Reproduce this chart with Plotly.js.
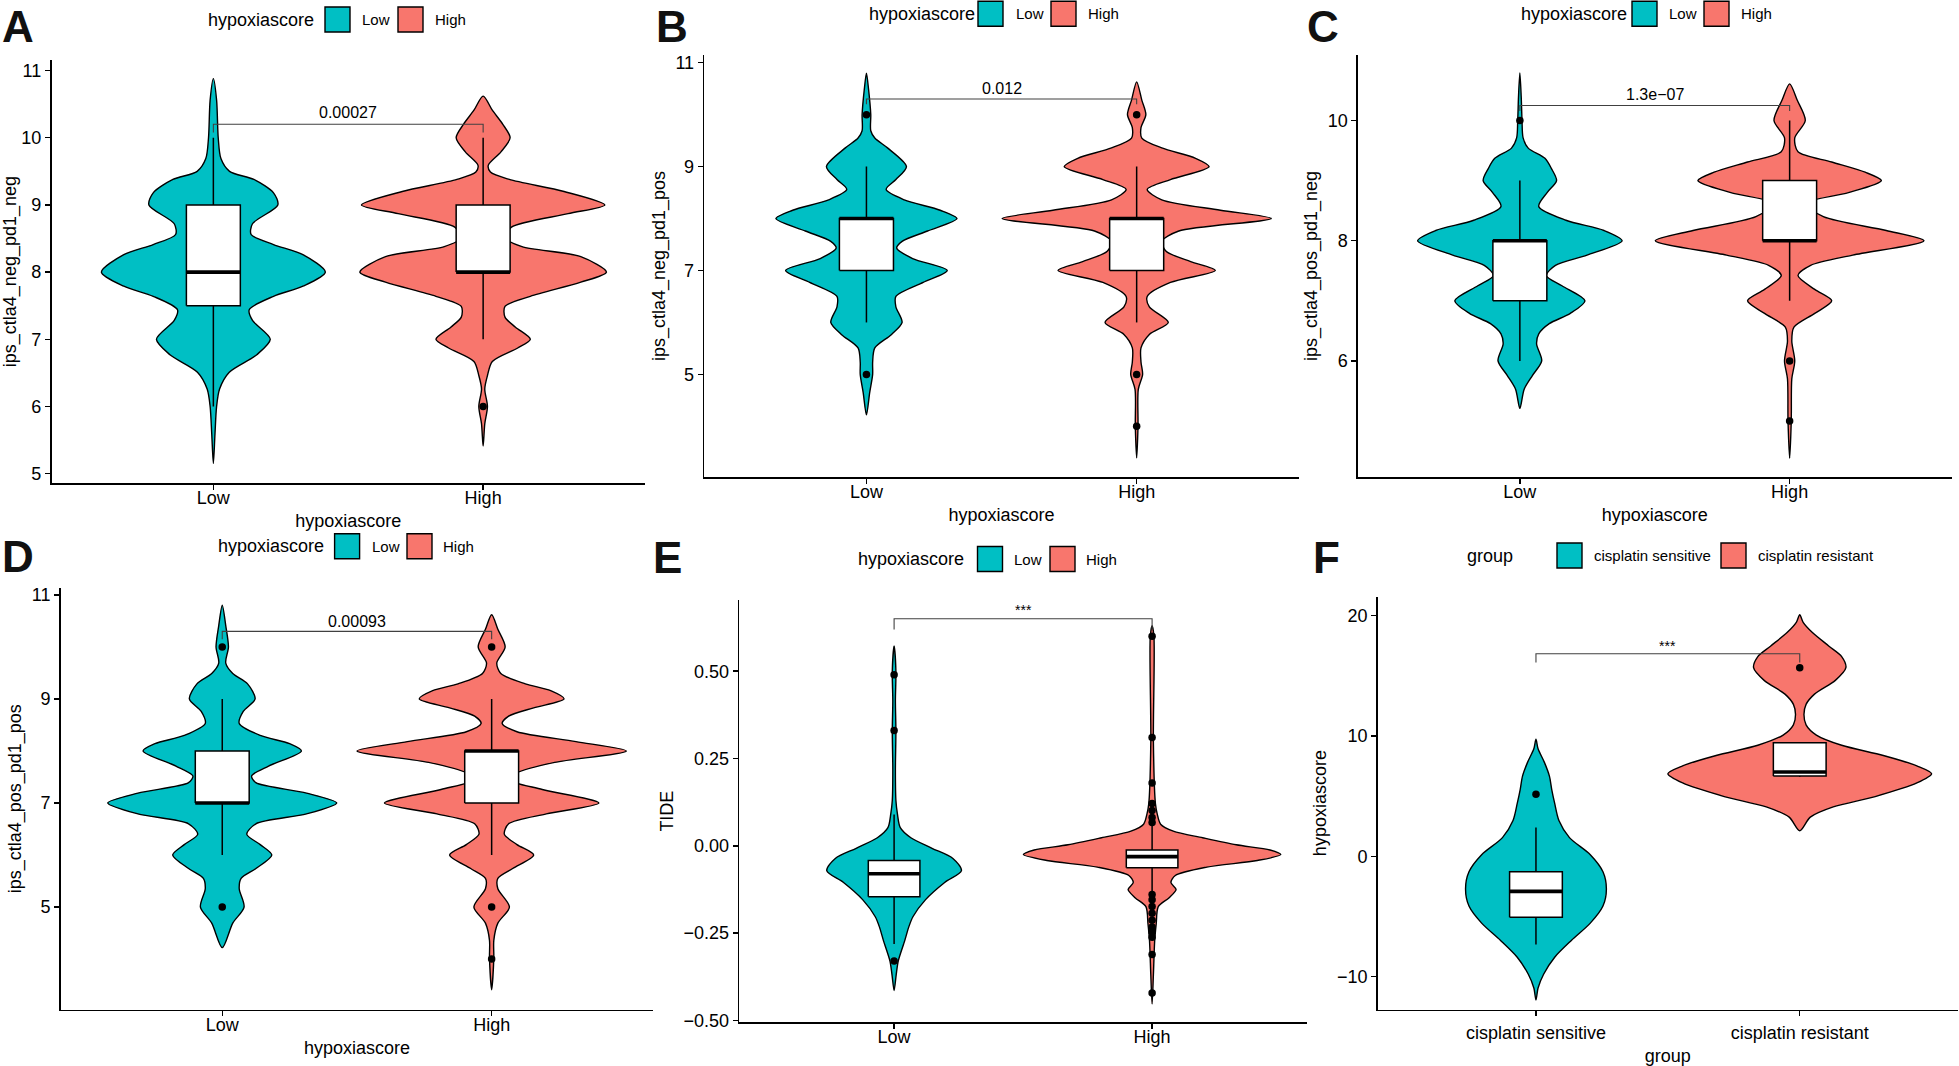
<!DOCTYPE html>
<html><head><meta charset="utf-8">
<script src="https://cdn.plot.ly/plotly-3.0.1.min.js"></script>
<style>html,body{margin:0;padding:0;background:#fff}#chart{width:1959px;height:1066px}</style>
</head><body><div id="chart"></div>
<script>
// ---------------- DATA ----------------
const hypoxiaGroups = ['Low', 'High'];
const cisplatinGroups = ['cisplatin sensitive', 'cisplatin resistant'];
const legendTitles = ['hypoxiascore', 'hypoxiascore', 'hypoxiascore', 'hypoxiascore', 'hypoxiascore', 'group'];
const yTitles = ['ips_ctla4_neg_pd1_neg', 'ips_ctla4_neg_pd1_pos', 'ips_ctla4_pos_pd1_neg', 'ips_ctla4_pos_pd1_pos', 'TIDE', 'hypoxiascore'];
const xTitles = ['hypoxiascore', 'hypoxiascore', 'hypoxiascore', 'hypoxiascore', '', 'group'];
const panelLetters = ['A', 'B', 'C', 'D', 'E', 'F'];
const pLabels = ['0.00027', '0.012', '1.3e\u221207', '0.00093', '***', '***'];

const yTicksA = [5, 6, 7, 8, 9, 10, 11];
const yTicksB = [5, 7, 9, 11];
const yTicksC = [6, 8, 10];
const yTicksD = [5, 7, 9, 11];
const yTicksE = [-0.5, -0.25, 0, 0.25, 0.5];
const yTicksF = [-10, 0, 10, 20];

// violin density profiles: y levels (ascending) and half-widths (category units)
const A_low_y  = [5.15, 5.59, 6.0, 6.26, 6.51, 6.77, 7.0, 7.28, 7.44, 7.64, 7.79, 8.0, 8.26, 8.41, 8.56, 8.72, 9.0, 9.18, 9.38, 9.5, 9.69, 10.0, 10.56, 10.88];
const A_low_w  = [0, 0.006, 0.012, 0.023, 0.059, 0.161, 0.211, 0.145, 0.133, 0.223, 0.332, 0.415, 0.332, 0.223, 0.14, 0.145, 0.239, 0.223, 0.15, 0.06, 0.028, 0.018, 0.012, 0];
const A_high_y = [5.41, 5.74, 6.0, 6.26, 6.46, 6.67, 6.87, 7.0, 7.18, 7.33, 7.49, 7.64, 7.85, 8.0, 8.23, 8.38, 8.51, 8.67, 8.87, 9.0, 9.2, 9.38, 9.49, 9.59, 9.79, 10.0, 10.2, 10.41, 10.62];
const A_high_w = [0, 0.006, 0.016, 0.006, 0.016, 0.034, 0.128, 0.175, 0.12, 0.081, 0.081, 0.175, 0.362, 0.457, 0.362, 0.144, 0.081, 0.105, 0.315, 0.451, 0.3, 0.097, 0.027, 0.019, 0.066, 0.1, 0.073, 0.034, 0];

const B_low_y  = [4.22, 4.65, 5.0, 5.24, 5.51, 5.77, 6.0, 6.3, 6.5, 6.77, 7.0, 7.23, 7.43, 7.56, 7.76, 8.0, 8.16, 8.36, 8.56, 8.75, 9.0, 9.36, 9.55, 9.69, 10.0, 10.48, 10.8];
const B_low_w  = [0, 0.012, 0.023, 0.023, 0.031, 0.093, 0.132, 0.109, 0.109, 0.21, 0.299, 0.171, 0.112, 0.132, 0.226, 0.335, 0.273, 0.14, 0.073, 0.109, 0.148, 0.078, 0.031, 0.016, 0.016, 0.008, 0];
const B_high_y = [3.39, 4.0, 4.71, 5.0, 5.24, 5.51, 5.77, 6.0, 6.3, 6.5, 6.77, 7.0, 7.17, 7.37, 7.56, 7.76, 8.0, 8.16, 8.36, 8.56, 8.75, 9.0, 9.16, 9.36, 9.55, 9.75, 10.0, 10.28, 10.63];
const B_high_w = [0, 0.005, 0.006, 0.022, 0.016, 0.016, 0.047, 0.117, 0.047, 0.039, 0.125, 0.291, 0.2, 0.109, 0.093, 0.156, 0.498, 0.31, 0.093, 0.039, 0.125, 0.268, 0.218, 0.093, 0.019, 0.016, 0.034, 0.019, 0];

const C_low_y  = [5.21, 5.53, 5.76, 6.0, 6.28, 6.45, 6.62, 6.79, 7.0, 7.25, 7.42, 7.59, 7.76, 8.0, 8.17, 8.34, 8.57, 8.8, 9.0, 9.2, 9.37, 9.54, 9.71, 10.0, 10.4, 10.79];
const C_low_w  = [0, 0.016, 0.047, 0.081, 0.062, 0.07, 0.109, 0.187, 0.241, 0.156, 0.098, 0.132, 0.249, 0.379, 0.312, 0.171, 0.07, 0.101, 0.136, 0.117, 0.093, 0.031, 0.012, 0.008, 0.005, 0];
const C_high_y = [4.38, 5.0, 5.7, 6.0, 6.33, 6.56, 6.79, 7.0, 7.19, 7.42, 7.59, 7.76, 8.0, 8.17, 8.4, 8.62, 8.8, 9.0, 9.14, 9.31, 9.48, 9.71, 10.0, 10.34, 10.61];
const C_high_w = [0, 0.006, 0.008, 0.019, 0.008, 0.016, 0.093, 0.156, 0.093, 0.031, 0.078, 0.234, 0.498, 0.358, 0.125, 0.058, 0.218, 0.34, 0.28, 0.156, 0.031, 0.019, 0.058, 0.028, 0];

const D_low_y  = [4.22, 4.69, 5.0, 5.35, 5.55, 5.74, 6.0, 6.2, 6.4, 6.6, 6.79, 7.0, 7.19, 7.39, 7.52, 7.71, 8.0, 8.14, 8.3, 8.53, 8.76, 9.0, 9.29, 9.49, 9.69, 10.0, 10.41, 10.8];
const D_low_w  = [0, 0.039, 0.081, 0.063, 0.07, 0.125, 0.184, 0.141, 0.091, 0.125, 0.313, 0.425, 0.313, 0.125, 0.109, 0.172, 0.294, 0.25, 0.141, 0.063, 0.078, 0.122, 0.094, 0.039, 0.013, 0.023, 0.013, 0];
const D_high_y = [3.41, 4.02, 4.36, 4.69, 5.0, 5.35, 5.55, 5.74, 6.0, 6.2, 6.4, 6.6, 6.79, 7.0, 7.26, 7.45, 7.58, 7.78, 8.0, 8.18, 8.37, 8.53, 8.67, 8.83, 9.0, 9.16, 9.29, 9.49, 9.69, 10.0, 10.34, 10.62];
const D_high_w = [0, 0.008, 0.008, 0.023, 0.066, 0.023, 0.023, 0.078, 0.156, 0.094, 0.047, 0.063, 0.203, 0.398, 0.188, 0.063, 0.094, 0.234, 0.5, 0.313, 0.094, 0.039, 0.063, 0.156, 0.269, 0.219, 0.125, 0.034, 0.019, 0.05, 0.023, 0];

const E_low_y  = [-0.414, -0.37, -0.33, -0.272, -0.232, -0.203, -0.154, -0.105, -0.071, -0.036, -0.007, 0.023, 0.052, 0.091, 0.13, 0.219, 0.328, 0.415, 0.5, 0.572];
const E_low_w  = [0, 0.008, 0.016, 0.041, 0.057, 0.073, 0.122, 0.196, 0.261, 0.228, 0.147, 0.065, 0.024, 0.013, 0.007, 0.005, 0.007, 0.005, 0.007, 0];
const E_high_y = [-0.453, -0.37, -0.272, -0.223, -0.174, -0.149, -0.125, -0.105, -0.085, -0.061, -0.042, -0.025, -0.012, 0.003, 0.023, 0.042, 0.062, 0.091, 0.12, 0.3, 0.6, 0.63];
const E_high_w = [0, 0.005, 0.01, 0.016, 0.024, 0.065, 0.093, 0.073, 0.09, 0.212, 0.408, 0.499, 0.457, 0.326, 0.196, 0.082, 0.033, 0.02, 0.013, 0.005, 0.007, 0];

const F_low_y  = [-11.93, -10.94, -9.8, -8.38, -6.97, -5.55, -4.13, -2.71, -1.29, 0.13, 1.55, 2.97, 4.39, 5.52, 6.66, 7.8, 8.93, 9.72];
const F_low_w  = [0, 0.008, 0.029, 0.071, 0.135, 0.206, 0.254, 0.267, 0.254, 0.206, 0.127, 0.087, 0.071, 0.06, 0.051, 0.032, 0.008, 0];
const F_high_y = [2.12, 3.25, 4.1, 4.96, 6.09, 6.86, 7.51, 8.37, 9.22, 10.07, 10.92, 11.77, 12.62, 13.47, 14.61, 15.66, 16.59, 17.45, 18.58, 19.43, 20.06];
const F_high_w = [0, 0.04, 0.127, 0.286, 0.444, 0.5, 0.444, 0.317, 0.159, 0.063, 0.024, 0.016, 0.024, 0.056, 0.135, 0.175, 0.159, 0.111, 0.048, 0.013, 0];

// box statistics [first group, second group]
const A_q1 = [7.5, 8], A_med = [8, 8], A_q3 = [9, 9], A_lo = [6, 7], A_hi = [10, 10];
const B_q1 = [7, 7], B_med = [8, 8], B_q3 = [8, 8], B_lo = [6, 6], B_hi = [9, 9];
const C_q1 = [7, 8], C_med = [8, 8], C_q3 = [8, 9], C_lo = [6, 7], C_hi = [9, 10];
const D_q1 = [7, 7], D_med = [7, 8], D_q3 = [8, 8], D_lo = [6, 6], D_hi = [9, 9];
const E_q1 = [-0.146, -0.063], E_med = [-0.080, -0.031], E_q3 = [-0.042, -0.012], E_lo = [-0.281, -0.13], E_hi = [0.09, 0.06];
const F_q1 = [-5.06, 6.66], F_med = [-2.91, 7.0], F_q3 = [-1.29, 9.44], F_lo = [-7.33, 6.6], F_hi = [2.4, 9.44];

// outliers
const A_out_low = [], A_out_high = [6];
const B_out_low = [10, 5], B_out_high = [10, 5, 4];
const C_out_low = [10], C_out_high = [6, 5];
const D_out_low = [10, 5], D_out_high = [10, 5, 4];
const E_out_low = [0.49, 0.33, -0.33];
const E_out_high = [0.60, 0.31, 0.18, 0.121, 0.101, 0.081, 0.067, -0.139, -0.154, -0.174, -0.193, -0.213, -0.232, -0.247, -0.262, -0.311, -0.421];
const F_out_low = [5.15], F_out_high = [15.66];

// significance brackets (data units)
const bracketY   = [10.2, 10.3, 10.25, 10.3, 0.65, 16.82];
const bracketTip = [10.08, 10.2, 10.16, 10.15, 0.619, 16.1];
const labelY     = [10.37, 10.5, 10.43, 10.49, 0.676, 17.5];

// ---------------- STYLE / LAYOUT ----------------
const W = 1959, H = 1066;
const COLORS = ['#00BFC4', '#F8766D'];
const FONT = 'Liberation Sans, Arial, Helvetica, sans-serif';
const px = v => v / W;
const py = v => 1 - v / H;

const panels = [
  {vy: [A_low_y, A_high_y], vw: [A_low_w, A_high_w], q1: A_q1, med: A_med, q3: A_q3, lo: A_lo, hi: A_hi, out: [A_out_low, A_out_high], ticks: yTicksA, cats: hypoxiaGroups,
   xd: [51.5, 645], yd: [60.3, 482.9], yr: [4.862, 11.153], fmt: '', pSize: 16, tls: -7},
  {vy: [B_low_y, B_high_y], vw: [B_low_w, B_high_w], q1: B_q1, med: B_med, q3: B_q3, lo: B_lo, hi: B_hi, out: [B_out_low, B_out_high], ticks: yTicksB, cats: hypoxiaGroups,
   xd: [704.3, 1298.8], yd: [55, 477], yr: [3.025, 11.148], fmt: '', pSize: 16, tls: -7},
  {vy: [C_low_y, C_high_y], vw: [C_low_w, C_high_w], q1: C_q1, med: C_med, q3: C_q3, lo: C_lo, hi: C_hi, out: [C_out_low, C_out_high], ticks: yTicksC, cats: hypoxiaGroups,
   xd: [1358, 1951.5], yd: [55, 477], yr: [4.068, 11.09], fmt: '', pSize: 16, tls: -7},
  {vy: [D_low_y, D_high_y], vw: [D_low_w, D_high_w], q1: D_q1, med: D_med, q3: D_q3, lo: D_lo, hi: D_hi, out: [D_out_low, D_out_high], ticks: yTicksD, cats: hypoxiaGroups,
   xd: [60.6, 653.3], yd: [588, 1009.6], yr: [3.028, 11.133], fmt: '', pSize: 16, tls: -7},
  {vy: [E_low_y, E_high_y], vw: [E_low_w, E_high_w], q1: E_q1, med: E_med, q3: E_q3, lo: E_lo, hi: E_hi, out: [E_out_low, E_out_high], ticks: yTicksE, cats: hypoxiaGroups,
   xd: [739.3, 1306.9], yd: [600, 1022.2], yr: [-0.5049, 0.7038], fmt: '.2f', pSize: 14, tls: -7},
  {vy: [F_low_y, F_high_y], vw: [F_low_w, F_high_w], q1: F_q1, med: F_med, q3: F_q3, lo: F_lo, hi: F_hi, out: [F_out_low, F_out_high], ticks: yTicksF, cats: cisplatinGroups,
   xd: [1377.7, 1958], yd: [596.7, 1009.5], yr: [-12.724, 21.56], fmt: '', pSize: 14, tls: 1}
];

// legend placement (pixels)
const legends = [
  {tx: 206, cy: 19.5, box: [325, 398], lab: [360, 433]},
  {tx: 866.8, cy: 13.8, box: [978, 1051], lab: [1014, 1086]},
  {tx: 1518.6, cy: 13.8, box: [1632, 1704], lab: [1667, 1739]},
  {tx: 215.5, cy: 546.3, box: [334.6, 407], lab: [369.5, 441]},
  {tx: 856, cy: 559, box: [977.5, 1050], lab: [1012, 1084]},
  {tx: 1464.8, cy: 555.5, box: [1557, 1721], lab: [1592, 1756]}
];
const letterPos = [[18, 0], [672, 0], [1323, 0], [18, 530], [667, 531], [1326, 531]];

const BOXW = 0.2;
const traces = [];
const layout = {
  width: W, height: H, margin: {l: 0, r: 0, t: 0, b: 0},
  paper_bgcolor: '#ffffff', plot_bgcolor: '#ffffff',
  font: {family: FONT, color: '#000000'},
  showlegend: false, annotations: [], shapes: []
};

panels.forEach((p, k) => {
  const n = k + 1;
  const xa = 'x' + (n === 1 ? '' : n), ya = 'y' + (n === 1 ? '' : n);
  const xkey = 'xaxis' + (n === 1 ? '' : n), ykey = 'yaxis' + (n === 1 ? '' : n);
  const common = {xaxis: xa, yaxis: ya, hoverinfo: 'skip', showlegend: false};

  // violins
  [0, 1].forEach(g => {
    const yv = p.vy[g], wv = p.vw[g];
    const xs = [], ys = [];
    for (let i = 0; i < yv.length; i++) { xs.push(g + wv[i]); ys.push(yv[i]); }
    for (let i = yv.length - 2; i >= 0; i--) { xs.push(g - wv[i]); ys.push(yv[i]); }
    traces.push(Object.assign({type: 'scatter', mode: 'lines', x: xs, y: ys, fill: 'toself', fillcolor: COLORS[g],
      line: {color: '#000000', width: 1.4, shape: 'spline', smoothing: 0.8}}, common));
  });
  // boxplots (whiskers, box, median, outliers)
  [0, 1].forEach(g => {
    const h = BOXW / 2;
    traces.push(Object.assign({type: 'scatter', mode: 'lines', x: [g, g, null, g, g],
      y: [p.lo[g], p.q1[g], null, p.q3[g], p.hi[g]], line: {color: '#000000', width: 1.5}}, common));
    traces.push(Object.assign({type: 'scatter', mode: 'lines', x: [g - h, g + h, g + h, g - h, g - h],
      y: [p.q1[g], p.q1[g], p.q3[g], p.q3[g], p.q1[g]], fill: 'toself', fillcolor: '#ffffff',
      line: {color: '#000000', width: 1.5}}, common));
    traces.push(Object.assign({type: 'scatter', mode: 'lines', x: [g - h, g + h], y: [p.med[g], p.med[g]],
      line: {color: '#000000', width: 3.6}}, common));
    if (p.out[g].length) {
      traces.push(Object.assign({type: 'scatter', mode: 'markers', x: p.out[g].map(() => g), y: p.out[g],
        marker: {color: '#000000', size: 7.5}}, common));
    }
  });
  // significance bracket
  traces.push(Object.assign({type: 'scatter', mode: 'lines', x: [0, 0, 1, 1], y: [bracketTip[k], bracketY[k], bracketY[k], bracketTip[k]],
    line: {color: '#404040', width: 1.1}}, common));
  layout.annotations.push({xref: xa, yref: ya, x: 0.5, y: labelY[k], text: pLabels[k], showarrow: false,
    xanchor: 'center', yanchor: 'middle', font: {size: p.pSize, color: '#000000', family: FONT}});

  layout[xkey] = {domain: [px(p.xd[0]), px(p.xd[1])], anchor: ya, range: [-0.6, 1.6],
    tickvals: [0, 1], ticktext: p.cats, showline: true, linecolor: '#000000', linewidth: 1.6,
    ticks: 'outside', ticklen: 5, tickwidth: 1.4, tickcolor: '#000000', showgrid: false, zeroline: false,
    ticklabelstandoff: p.tls,
    tickfont: {size: 18, color: '#000000', family: FONT}, automargin: false, fixedrange: true,
    title: {text: xTitles[k], font: {size: 18, color: '#000000', family: FONT}, standoff: 7}};
  layout[ykey] = {domain: [py(p.yd[1]), py(p.yd[0])], anchor: xa, range: p.yr,
    tickvals: p.ticks, tickformat: p.fmt, showline: true, linecolor: '#000000', linewidth: 1.6,
    ticks: 'outside', ticklen: 5, tickwidth: 1.4, tickcolor: '#000000', showgrid: false, zeroline: false,
    tickfont: {size: 18, color: '#000000', family: FONT}, automargin: false, fixedrange: true,
    title: {text: yTitles[k], font: {size: 18, color: '#000000', family: FONT}, standoff: 5}};

  // legend
  const L = legends[k];
  const cats = p.cats;
  layout.annotations.push({xref: 'paper', yref: 'paper', x: px(L.tx), y: py(L.cy), text: legendTitles[k],
    showarrow: false, xanchor: 'left', yanchor: 'middle', font: {size: 18, color: '#000000', family: FONT}});
  [0, 1].forEach(g => {
    layout.shapes.push({type: 'rect', xref: 'paper', yref: 'paper',
      x0: px(L.box[g]), x1: px(L.box[g] + 25), y0: py(L.cy + 12.5), y1: py(L.cy - 12.5),
      fillcolor: COLORS[g], line: {color: '#000000', width: 1.4}});
    layout.annotations.push({xref: 'paper', yref: 'paper', x: px(L.lab[g]), y: py(L.cy), text: cats[g],
      showarrow: false, xanchor: 'left', yanchor: 'middle', font: {size: 15, color: '#000000', family: FONT}});
  });
  // panel letter
  layout.annotations.push({xref: 'paper', yref: 'paper', x: px(letterPos[k][0]), y: py(letterPos[k][1]), text: '<b>' + panelLetters[k] + '</b>',
    showarrow: false, xanchor: 'center', yanchor: 'top', font: {size: 44, color: '#111111', family: FONT}});
});

Plotly.newPlot('chart', traces, layout, {staticPlot: true, displayModeBar: false});
</script>
</body></html>
